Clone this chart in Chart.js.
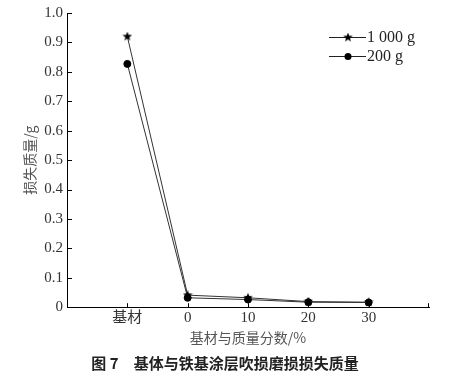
<!DOCTYPE html>
<html><head><meta charset="utf-8">
<script src="https://cdn.jsdelivr.net/npm/chart.js@4/dist/chart.umd.min.js"></script>
<style>html,body{margin:0;padding:0;background:#fff}#wrap{width:449px;height:382px}</style>
</head><body><div id="wrap"><canvas id="c" width="449" height="382"></canvas></div>
<script>
const categories = ['基材', '0', '10', '20', '30'];
const series1000 = [0.92, 0.041, 0.032, 0.019, 0.017];
const series200 = [0.827, 0.032, 0.026, 0.017, 0.016];
const seriesLabels = ['1 000 g', '200 g'];
const yTicks = [0, 0.1, 0.2, 0.3, 0.4, 0.5, 0.6, 0.7, 0.8, 0.9, 1.0];

const SERIF = '"Liberation Serif", "Noto Sans CJK SC", serif';
const CJK = '"Noto Sans CJK SC", sans-serif';

function makeStar(size) {
  const cv = document.createElement('canvas');
  cv.width = size; cv.height = size;
  const g = cv.getContext('2d');
  const cx = size / 2, cy = size / 2, ro = size / 2, ri = ro * 0.42;
  g.beginPath();
  for (let i = 0; i < 10; i++) {
    const r = i % 2 ? ri : ro;
    const a = -Math.PI / 2 + i * Math.PI / 5;
    g.lineTo(cx + r * Math.cos(a), cy + r * Math.sin(a));
  }
  g.closePath();
  g.fillStyle = '#000';
  g.fill();
  return cv;
}
const star = makeStar(10);

const toPts = arr => arr.map((v, i) => ({ x: i + 1, y: v }));

const tickPlugin = {
  id: 'inwardTicks',
  afterDraw(chart) {
    const ctx = chart.ctx, xs = chart.scales.x, ys = chart.scales.y;
    const ca = chart.chartArea;
    ctx.save();
    ctx.strokeStyle = '#000';
    ctx.lineWidth = 1;
    ctx.beginPath();
    yTicks.forEach(v => {
      const y = Math.round(ys.getPixelForValue(v)) + 0.5;
      ctx.moveTo(ca.left, y); ctx.lineTo(ca.left + 5, y);
    });
    categories.forEach((c, i) => {
      const x = Math.round(xs.getPixelForValue(i + 1)) + 0.5;
      ctx.moveTo(x, ca.bottom); ctx.lineTo(x, ca.bottom - 4);
    });
    const xr = Math.round(ca.right) - 0.5;
    ctx.moveTo(xr, ca.bottom); ctx.lineTo(xr, ca.bottom - 4);
    ctx.stroke();

    // legend
    const rows = [37, 56];
    chart.data.datasets.forEach((ds, i) => {
      const y = rows[i] + 0.5;
      ctx.strokeStyle = '#222';
      ctx.beginPath(); ctx.moveTo(329, y); ctx.lineTo(366, y); ctx.stroke();
      if (ds.pointStyle === 'circle') {
        ctx.fillStyle = '#000';
        ctx.beginPath(); ctx.arc(348, y, 3.5, 0, Math.PI * 2); ctx.fill();
      } else {
        ctx.drawImage(ds.pointStyle, 343, y - 5);
      }
      ctx.fillStyle = '#222';
      ctx.font = '16px ' + SERIF;
      ctx.textBaseline = 'middle';
      ctx.textAlign = 'left';
      ctx.fillText(ds.label, 367, y);
    });
    ctx.restore();
  }
};

new Chart(document.getElementById('c'), {
  type: 'line',
  data: {
    datasets: [
      { label: seriesLabels[0], data: toPts(series1000), borderColor: '#333', borderWidth: 1,
        pointStyle: star, pointRadius: 5, backgroundColor: '#000', tension: 0 },
      { label: seriesLabels[1], data: toPts(series200), borderColor: '#333', borderWidth: 1,
        pointStyle: 'circle', pointRadius: 3.5, pointBackgroundColor: '#000', pointBorderColor: '#000', tension: 0 }
    ]
  },
  options: {
    responsive: false,
    animation: false,
    devicePixelRatio: 1,
    layout: { padding: { left: 21, right: 20, top: 6, bottom: 10 } },
    plugins: {
      legend: { display: false },
      tooltip: { enabled: false },
      title: {
        display: true, position: 'bottom',
        text: '图 7　基体与铁基涂层吹损磨损损失质量',
        color: '#222', font: { family: CJK, size: 15, weight: 'bold' },
        padding: { top: 8, bottom: 0 }
      }
    },
    scales: {
      x: {
        type: 'linear', min: 0, max: 6,
        afterBuildTicks: s => { s.ticks = categories.map((c, i) => ({ value: i + 1 })); },
        ticks: { callback: v => categories[v - 1], color: '#333', font: { family: SERIF, size: 15 }, padding: 2, maxRotation: 0 },
        grid: { display: false, drawTicks: false },
        border: { display: true, color: '#000', width: 1 },
        title: { display: true, text: '基材与质量分数/%', color: '#555', font: { family: CJK, size: 14 }, padding: { top: 0, bottom: 0 } }
      },
      y: {
        min: 0, max: 1,
        afterBuildTicks: s => { s.ticks = yTicks.map(v => ({ value: v })); },
        afterFit: s => { s.width = 46; },
        ticks: { callback: v => v === 0 ? '0' : v.toFixed(1), color: '#333', font: { family: SERIF, size: 15 }, padding: 4 },
        grid: { display: false, drawTicks: false },
        border: { display: true, color: '#000', width: 1 },
        title: { display: true, text: '损失质量/g', color: '#555', font: { family: CJK, size: 14 }, padding: 0 }
      }
    }
  },
  plugins: [tickPlugin]
});
</script></body></html>
